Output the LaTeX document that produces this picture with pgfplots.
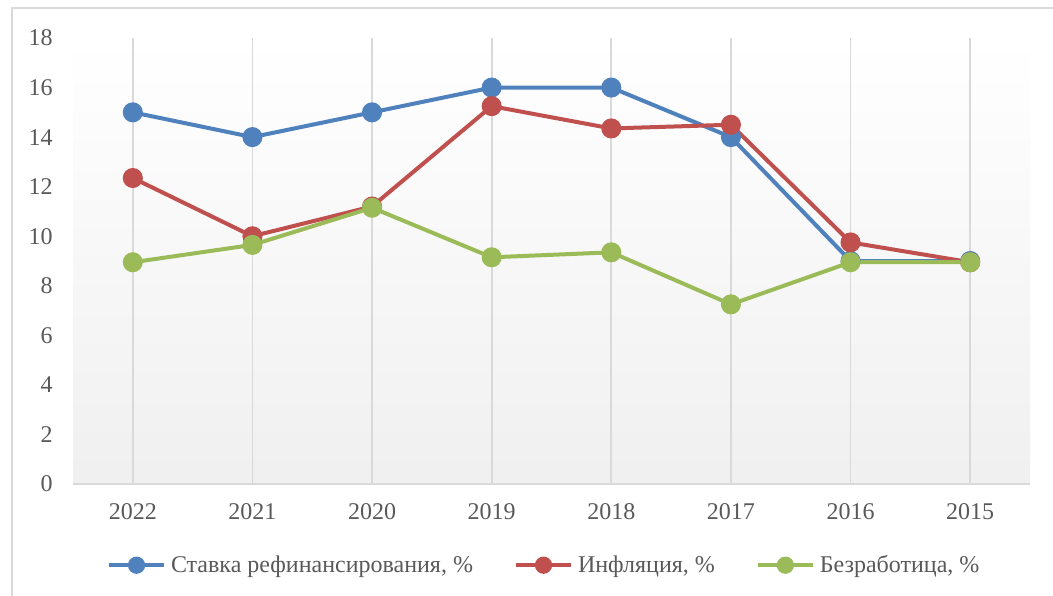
\documentclass[border=0pt]{standalone}
\usepackage{fontspec}
\setmainfont{Liberation Serif}
\usepackage{pgfplots}
\pgfplotsset{compat=1.18}
\definecolor{cblue}{HTML}{4F81BD}
\definecolor{cred}{HTML}{C0504D}
\definecolor{cgreen}{HTML}{9BBB59}
\definecolor{ctext}{HTML}{595959}
\definecolor{cgrid}{HTML}{D9D9D9}
\begin{document}
\begin{tikzpicture}
\useasboundingbox (0,0) rectangle (526.5pt,-297.5pt);
\draw[cgrid, line width=0.8pt] (6pt,-310pt) -- (6pt,-4pt) -- (540pt,-4pt);
\begin{axis}[
  at={(36.5pt,-242pt)}, anchor=south west,
  scale only axis, width=478.5pt, height=223pt,
  xmin=-0.5, xmax=7.5, ymin=0, ymax=18,
  ytick={0,2,...,18},
  xtick={0,1,2,3,4,5,6,7},
  xticklabels={2022,2021,2020,2019,2018,2017,2016,2015},
  axis x line*=bottom, axis y line*=left,
  x axis line style={cgrid, line width=1pt, -},
  y axis line style={draw=none},
  major tick length=0pt,
  xmajorgrids, grid style={cgrid, line width=0.9pt},
  axis background/.style={top color=white, bottom color=black!6},
  /pgf/number format/assume math mode=true,
  every tick label/.append style={inner sep=0pt, font=\fontsize{12}{14}\selectfont, text=ctext},
  yticklabel style={xshift=-10pt},
  xticklabel style={yshift=-9.5pt},
  legend columns=3,
  legend style={draw=none, fill=none, at={(0.494,-0.182)}, anchor=center,
    font=\fontsize{12}{14}\selectfont, text=ctext,
    nodes={inner sep=2.5pt},
    /tikz/every even column/.append style={column sep=18pt}},
  legend image code/.code={\draw[mark repeat=2,mark phase=2, mark size=3.3pt] plot coordinates {(0pt,0pt)(13.75pt,0pt)(27.5pt,0pt)};},
  every axis plot/.append style={line width=2pt, mark=*, mark size=4pt},
]
\addplot[cblue, mark options={fill=cblue, draw=cblue}] coordinates {(0,15) (1,14) (2,15) (3,16) (4,16) (5,14) (6,9) (7,9)};
\addlegendentry{Ставка рефинансирования, \%}
\addplot[cred, mark options={fill=cred, draw=cred}] coordinates {(0,12.35) (1,10) (2,11.2) (3,15.25) (4,14.35) (5,14.5) (6,9.75) (7,8.95)};
\addlegendentry{Инфляция, \%}
\addplot[cgreen, mark options={fill=cgreen, draw=cgreen}] coordinates {(0,8.95) (1,9.65) (2,11.15) (3,9.15) (4,9.35) (5,7.25) (6,8.95) (7,8.95)};
\addlegendentry{Безработица, \%}
\end{axis}
\end{tikzpicture}
\end{document}
